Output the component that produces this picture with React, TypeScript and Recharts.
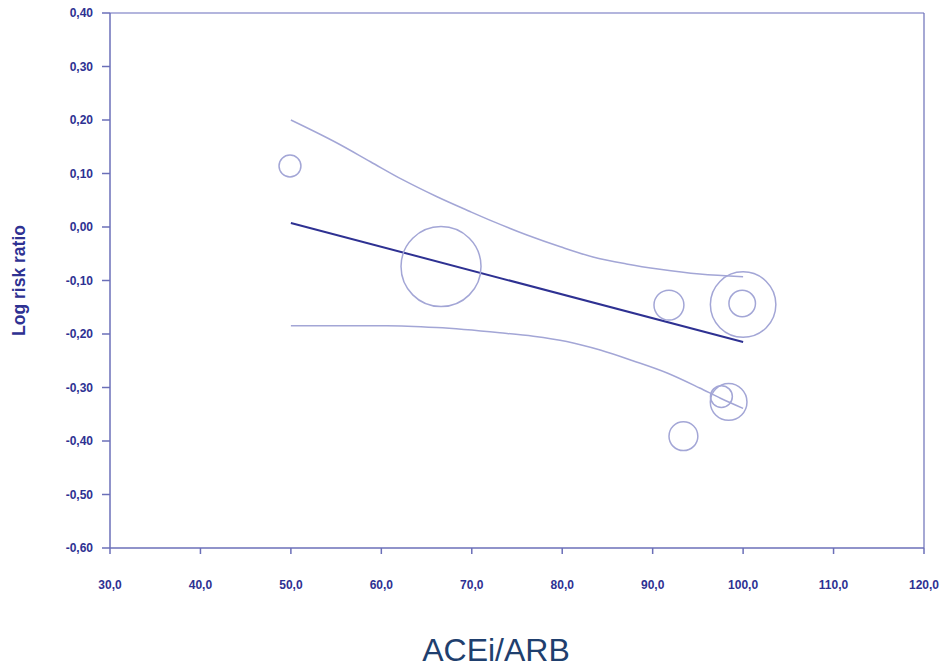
import React from 'react';
import { ComposedChart, Line, Scatter, XAxis, YAxis, ZAxis, ReferenceLine } from 'recharts';

// Study bubbles: x = ACEi/ARB %, y = log risk ratio, w = relative weight
const studies = [
  { x: 49.9, y: 0.114, w: 7.5 },
  { x: 66.6, y: -0.074, w: 100 },
  { x: 91.8, y: -0.146, w: 14 },
  { x: 100.0, y: -0.145, w: 67 },
  { x: 99.9, y: -0.143, w: 11 },
  { x: 97.6, y: -0.317, w: 7.5 },
  { x: 98.4, y: -0.327, w: 21 },
  { x: 93.4, y: -0.391, w: 13 },
];

const fitLine = [
  { x: 50, y: 0.0075 },
  { x: 100, y: -0.215 },
];

const upperCI = [
  { x: 50, y: 0.2 },
  { x: 55.1, y: 0.157 },
  { x: 58.8, y: 0.122 },
  { x: 62.4, y: 0.088 },
  { x: 66.1, y: 0.057 },
  { x: 69.8, y: 0.029 },
  { x: 72.4, y: 0.01 },
  { x: 76.1, y: -0.015 },
  { x: 79.8, y: -0.037 },
  { x: 83.4, y: -0.056 },
  { x: 87.1, y: -0.069 },
  { x: 90.8, y: -0.079 },
  { x: 95.2, y: -0.088 },
  { x: 100, y: -0.093 },
];

const lowerCI = [
  { x: 50, y: -0.1845 },
  { x: 60.6, y: -0.1845 },
  { x: 66.1, y: -0.188 },
  { x: 73.1, y: -0.1976 },
  { x: 76.8, y: -0.204 },
  { x: 80.5, y: -0.214 },
  { x: 84.2, y: -0.23 },
  { x: 87.8, y: -0.25 },
  { x: 91.6, y: -0.273 },
  { x: 95.2, y: -0.301 },
  { x: 97.5, y: -0.32 },
  { x: 100, y: -0.339 },
];

const xTicks = [30, 40, 50, 60, 70, 80, 90, 100, 110, 120];
const yTicks = [0.4, 0.3, 0.2, 0.1, 0, -0.1, -0.2, -0.3, -0.4, -0.5, -0.6];

const xTitle = 'ACEi/ARB';
const yTitle = 'Log risk ratio';

const navy = '#2e3192';
const axisColor = '#6b6fb8';
const frameColor = '#9a9dd2';
const lightLine = '#a3a6d6';

const fmtX = (v: number) => v.toFixed(1).replace('.', ',');
const fmtY = (v: number) => v.toFixed(2).replace('.', ',');

const Bubble = (props: any) => {
  const { cx, cy } = props;
  const r = props.width ? props.width / 2 : Math.sqrt((props.size || 0) / Math.PI);
  return <circle cx={cx} cy={cy} r={r} fill="none" stroke={lightLine} strokeWidth={1.5} />;
};

const YLabel = (props: any) => {
  const vb = props.viewBox || {};
  const cx = 19;
  const cy = vb.y + vb.height / 2;
  return (
    <text
      x={cx}
      y={cy}
      transform={`rotate(-90 ${cx} ${cy})`}
      textAnchor="middle"
      dominantBaseline="central"
      fill={navy}
      fontFamily="Liberation Sans, Arial, sans-serif"
      fontWeight="bold"
      fontSize={17.5}
    >
      {yTitle}
    </text>
  );
};

const XLabel = (props: any) => {
  const vb = props.viewBox || {};
  const cx = vb.x + vb.width / 2 - 21;
  return (
    <text
      x={cx}
      y={vb.y + 113}
      textAnchor="middle"
      fill="#1f3f6e"
      fontFamily="Liberation Sans, Arial, sans-serif"
      fontSize={32}
    >
      {xTitle}
    </text>
  );
};

const tickStyle = {
  fill: navy,
  fontSize: 12,
  fontWeight: 'bold' as const,
  fontFamily: 'Liberation Sans, Arial, sans-serif',
};

export default function App() {
  return (
    <div style={{ position: 'absolute', left: 0, top: 0, background: '#fff' }}>
      <ComposedChart width={945} height={670} margin={{ top: 13, right: 21, bottom: 0, left: 0 }}>
        <XAxis
          type="number"
          dataKey="x"
          domain={[30, 120]}
          ticks={xTicks}
          tickFormatter={fmtX}
          allowDataOverflow
          height={122}
          tickSize={6}
          tickMargin={26}
          stroke={axisColor}
          strokeWidth={1.5}
          tick={tickStyle}
          label={<XLabel />}
        />
        <YAxis
          type="number"
          dataKey="y"
          domain={[-0.6, 0.4]}
          ticks={yTicks}
          tickFormatter={fmtY}
          allowDataOverflow
          width={110}
          tickSize={8}
          tickMargin={9}
          stroke={axisColor}
          strokeWidth={1.5}
          tick={tickStyle}
          interval={0}
          label={<YLabel />}
        />
        <ZAxis type="number" dataKey="w" domain={[0, 100]} range={[0, 5027]} />
        <ReferenceLine y={0.4} stroke={frameColor} strokeWidth={1.5} ifOverflow="extendDomain" />
        <ReferenceLine x={120} stroke={axisColor} strokeWidth={1.2} />
        <Line data={upperCI} dataKey="y" type="monotone" stroke={lightLine} strokeWidth={1.5} dot={false} isAnimationActive={false} />
        <Line data={lowerCI} dataKey="y" type="monotone" stroke={lightLine} strokeWidth={1.5} dot={false} isAnimationActive={false} />
        <Line data={fitLine} dataKey="y" type="linear" stroke={navy} strokeWidth={2} dot={false} isAnimationActive={false} />
        <Scatter data={studies} dataKey="y" shape={<Bubble />} isAnimationActive={false} />
      </ComposedChart>
    </div>
  );
}
